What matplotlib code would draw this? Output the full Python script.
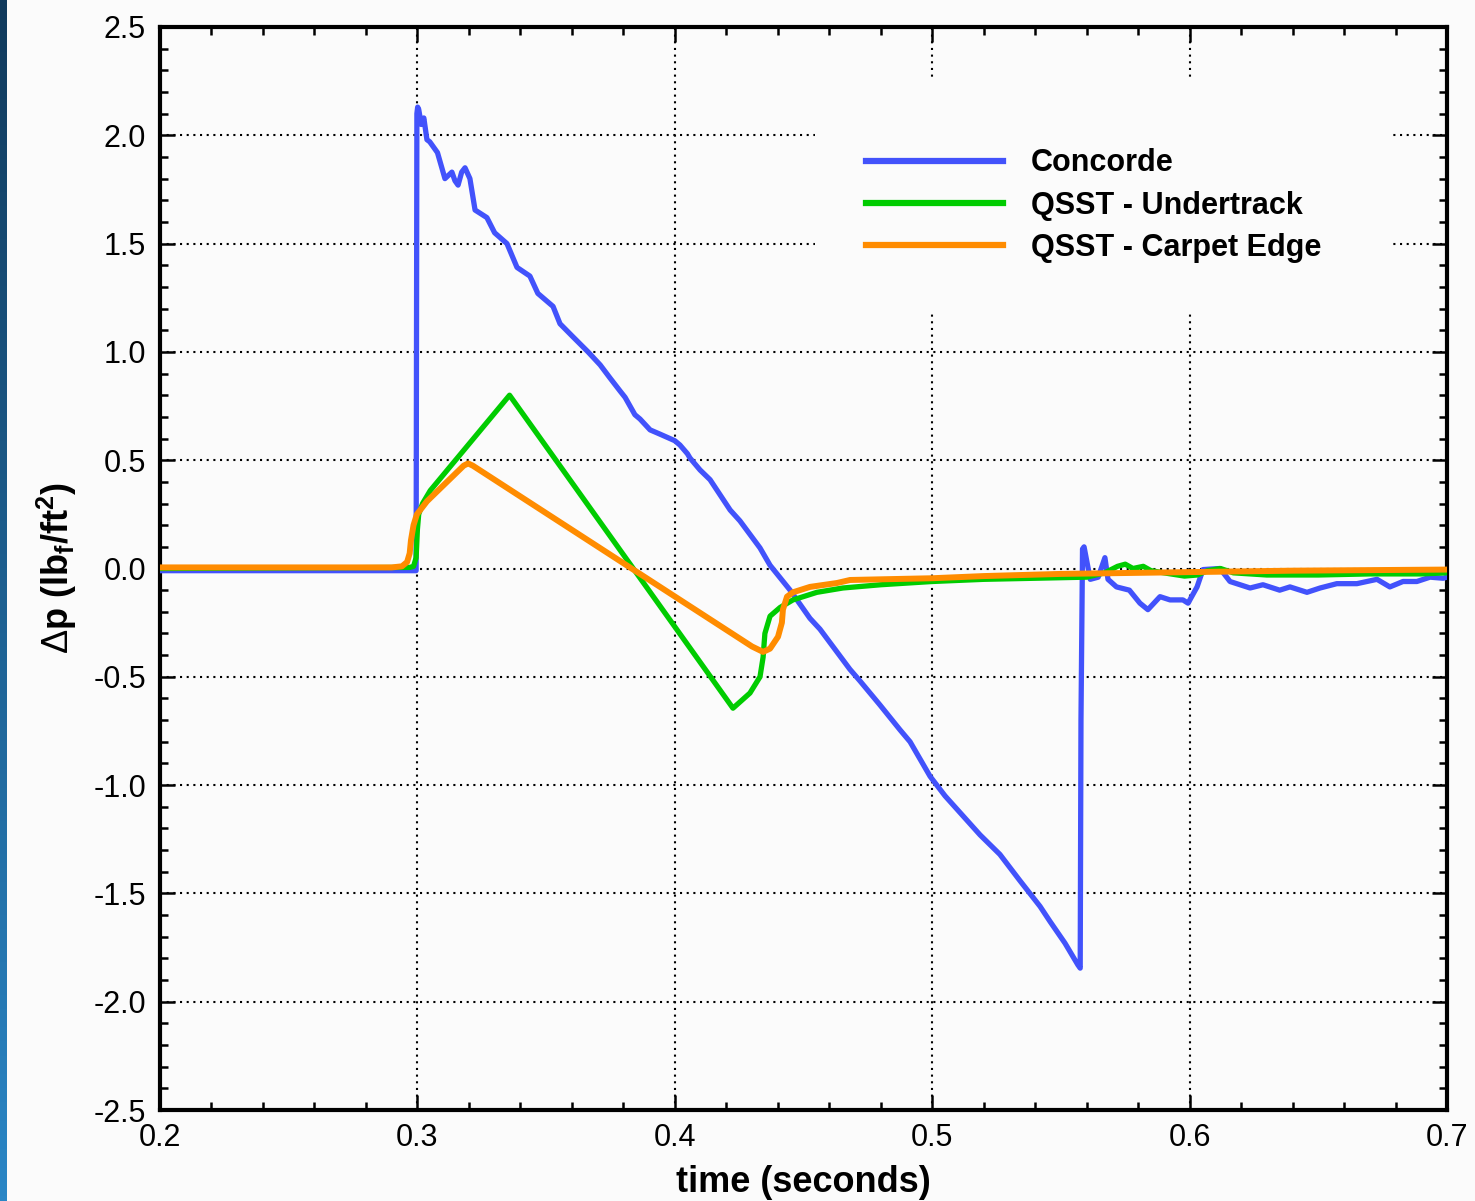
import numpy as np
import matplotlib
matplotlib.use('Agg')
import matplotlib.pyplot as plt
from matplotlib.ticker import MultipleLocator, FormatStrFormatter
from matplotlib.patches import Rectangle

plt.rcParams['font.family'] = ['Liberation Sans', 'DejaVu Sans']
plt.rcParams['axes.unicode_minus'] = False
plt.rcParams['mathtext.fontset'] = 'custom'
plt.rcParams['mathtext.rm'] = 'Liberation Sans'
plt.rcParams['mathtext.bf'] = 'Liberation Sans:bold'
plt.rcParams['mathtext.it'] = 'Liberation Sans:italic'

# Concorde measured signature (time s, dp lbf/ft^2)
concorde_t = [0.200, 0.250, 0.2995, 0.2998, 0.3001, 0.3005, 0.3015, 0.3025, 0.3037,
              0.3048, 0.3078, 0.3107, 0.3134, 0.3146, 0.3158, 0.3172, 0.3185, 0.3204,
              0.3224, 0.3270, 0.3300, 0.3348, 0.3387, 0.3437, 0.3468, 0.3527, 0.3554,
              0.3604, 0.3663, 0.3710, 0.3748, 0.3787, 0.3807, 0.3845, 0.3865, 0.3904,
              0.3943, 0.3962, 0.4000, 0.4020, 0.4049, 0.4059, 0.4098, 0.4137, 0.4215,
              0.4253, 0.4331, 0.4370, 0.4448, 0.4525, 0.4564, 0.4680, 0.4720, 0.4797,
              0.4875, 0.4914, 0.4992, 0.5050, 0.5186, 0.5263, 0.5340, 0.5419, 0.5458,
              0.5516, 0.5566, 0.5575, 0.5578, 0.5584, 0.5590, 0.5602, 0.5614, 0.5645,
              0.5671, 0.5683, 0.5716, 0.5766, 0.5807, 0.5838, 0.5885, 0.5924, 0.5974,
              0.5994, 0.6029, 0.6052, 0.6118, 0.6157, 0.6235, 0.6285, 0.6350, 0.6390,
              0.6456, 0.6507, 0.6572, 0.6650, 0.6728, 0.6778, 0.6829, 0.6883, 0.6934,
              0.6985, 0.7000]
concorde_p = [-0.01, -0.01, -0.01, 2.10, 2.13, 2.12, 2.05, 2.08, 1.98,
              1.97, 1.92, 1.80, 1.83, 1.79, 1.77, 1.83, 1.85, 1.80,
              1.655, 1.62, 1.55, 1.50, 1.39, 1.35, 1.27, 1.21, 1.13,
              1.07, 1.00, 0.94, 0.88, 0.82, 0.79, 0.71, 0.69, 0.64,
              0.62, 0.61, 0.59, 0.57, 0.53, 0.51, 0.455, 0.41, 0.27,
              0.22, 0.095, 0.015, -0.10, -0.23, -0.28, -0.465, -0.52, -0.63,
              -0.745, -0.80, -0.96, -1.05, -1.23, -1.32, -1.44, -1.56, -1.63,
              -1.73, -1.83, -1.845, -0.70, 0.09, 0.10, 0.025, -0.05, -0.04,
              0.05, -0.05, -0.085, -0.10, -0.16, -0.19, -0.13, -0.145, -0.145,
              -0.16, -0.085, -0.005, 0.0, -0.06, -0.09, -0.075, -0.10, -0.085,
              -0.11, -0.09, -0.07, -0.07, -0.05, -0.085, -0.06, -0.06, -0.04,
              -0.045, -0.04]

# QSST undertrack prediction
under_t = [0.200, 0.2970, 0.2985, 0.2995, 0.3000, 0.3005, 0.3020, 0.3050, 0.3358,
           0.4226, 0.4292, 0.4331, 0.4343, 0.4350, 0.4370, 0.4409, 0.4459, 0.4552,
           0.4653, 0.4800, 0.5000, 0.5200, 0.5400, 0.5600, 0.5670, 0.5720, 0.5750,
           0.5780, 0.5820, 0.5850, 0.5900, 0.5980, 0.6030, 0.6070, 0.6120, 0.6170,
           0.6300, 0.6500, 0.6700, 0.6900, 0.7000]
under_p = [0.0, 0.005, 0.01, 0.05, 0.18, 0.25, 0.30, 0.36, 0.80,
           -0.645, -0.575, -0.50, -0.41, -0.30, -0.22, -0.18, -0.145, -0.11,
           -0.09, -0.075, -0.06, -0.05, -0.045, -0.04, -0.02, 0.01, 0.02,
           0.0, 0.01, -0.01, -0.02, -0.035, -0.03, -0.01, 0.0, -0.02,
           -0.03, -0.03, -0.025, -0.025, -0.02]

# QSST carpet edge prediction
edge_t = [0.200, 0.2900, 0.2940, 0.2960, 0.2970, 0.2975, 0.2985, 0.2998, 0.3037,
          0.3180, 0.3197, 0.3215, 0.4300, 0.4343, 0.4370, 0.4401, 0.4416, 0.4420,
          0.4436, 0.4459, 0.4525, 0.4630, 0.4681, 0.4800, 0.5000, 0.5200, 0.5500,
          0.5800, 0.6100, 0.6400, 0.7000]
edge_p = [0.005, 0.005, 0.01, 0.03, 0.07, 0.13, 0.20, 0.25, 0.31,
          0.475, 0.485, 0.475, -0.36, -0.385, -0.37, -0.315, -0.25, -0.19,
          -0.13, -0.11, -0.085, -0.067, -0.053, -0.05, -0.045, -0.035, -0.025,
          -0.02, -0.015, -0.01, -0.005]

labels = ['Concorde', 'QSST - Undertrack', 'QSST - Carpet Edge']
colors = ['#4252fb', '#00cc00', '#ff8c00']

bg = '#fbfbfb'
fig = plt.figure(figsize=(14.75, 12.01), dpi=100, facecolor=bg)

# dark blue strip on the left edge
strip = fig.add_axes([0, 0, 7 / 1475, 1])
grad = np.linspace(0, 1, 256).reshape(-1, 1)
strip.imshow(grad, aspect='auto', cmap=matplotlib.colors.LinearSegmentedColormap.from_list(
    'strip', ['#113a5c', '#2a86c6']), extent=[0, 1, 0, 1])
strip.axis('off')

ax = fig.add_axes([160 / 1475, 1 - 1110 / 1201, 1287 / 1475, 1083 / 1201], facecolor=bg)
ax.set_axisbelow(True)

ax.plot(concorde_t, concorde_p, color=colors[0], lw=3.8, label=labels[0], zorder=3)
ax.plot(under_t, under_p, color=colors[1], lw=3.8, label=labels[1], zorder=3.1)
ax.plot(edge_t, edge_p, color=colors[2], lw=4.3, label=labels[2], zorder=3.2)

ax.set_xlim(0.2, 0.7)
ax.set_ylim(-2.5, 2.5)
ax.xaxis.set_major_locator(MultipleLocator(0.1))
ax.xaxis.set_minor_locator(MultipleLocator(0.02))
ax.yaxis.set_major_locator(MultipleLocator(0.5))
ax.yaxis.set_minor_locator(MultipleLocator(0.1))
ax.xaxis.set_major_formatter(FormatStrFormatter('%.1f'))
ax.yaxis.set_major_formatter(FormatStrFormatter('%.1f'))

ax.tick_params(which='both', direction='in', top=True, right=True, color='black')
ax.tick_params(which='major', length=11, width=1.8, labelsize=22)
ax.tick_params(which='minor', length=6, width=1.8)
ax.tick_params(axis='y', which='major', pad=10)
ax.tick_params(axis='x', which='major', pad=9)
for s in ax.spines.values():
    s.set_linewidth(3)

ax.grid(True, which='major', color='black', linestyle=(0, (1, 2.2)), linewidth=1.5)

# blank area behind the legend covers the grid
ax.add_patch(Rectangle((0.509, 0.736), 0.447, 0.218, transform=ax.transAxes,
                       facecolor=bg, edgecolor='none', zorder=1))

leg = ax.legend(loc='upper left', bbox_to_anchor=(0.5485, 0.888), frameon=False,
                borderaxespad=0, borderpad=0, handlelength=4.5, handletextpad=0.9,
                labelspacing=0.4, prop={'size': 22, 'weight': 'bold'})
for line in leg.get_lines():
    line.set_linewidth(4.5)

ax.set_xlabel('time (seconds)', fontsize=26, fontweight='bold', labelpad=9)
ax.set_ylabel(r'$\Delta$p (lb$_{\mathbf{f}}$/ft$^{\mathbf{2}}$)', fontsize=26,
              fontweight='bold', labelpad=10)

fig.savefig('out.png', dpi=100, facecolor=bg)
